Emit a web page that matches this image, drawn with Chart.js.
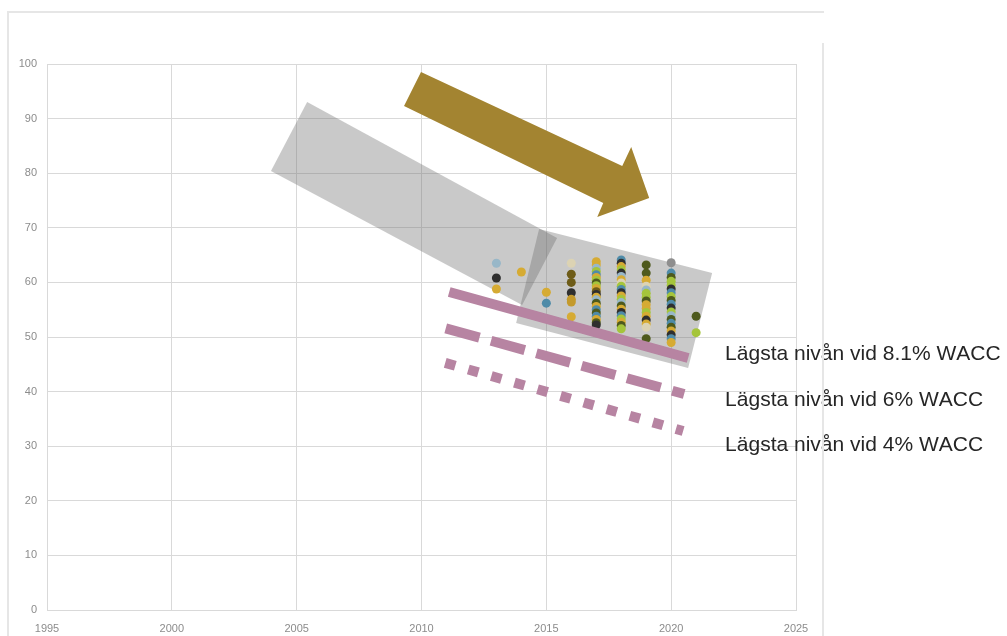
<!DOCTYPE html>
<html><head><meta charset="utf-8">
<script src="https://cdn.jsdelivr.net/npm/chart.js@4.4.1/dist/chart.umd.min.js"></script>
<style>
html,body{margin:0;padding:0;background:#fff;}
#wrap{position:relative;width:1007px;height:636px;overflow:hidden;background:#fff;}
canvas{position:absolute;left:0;top:0;}
.fr{position:absolute;background:#e6e6e6;}
</style></head><body>
<div id="wrap">
<canvas id="c" width="1007" height="636"></canvas>
<div class="fr" style="left:8px;top:11px;width:816px;height:2px"></div>
<div class="fr" style="left:7px;top:11px;width:2px;height:625px"></div>
<div class="fr" style="left:822px;top:43px;width:2px;height:593px"></div>
</div>
<script>
// ---- tick labels ----
const xTicks = [1995, 2000, 2005, 2010, 2015, 2020, 2025];
const yTicks = [0, 10, 20, 30, 40, 50, 60, 70, 80, 90, 100];

// ---- observed points per year (values top to bottom) ----
const years = [2013, 2014, 2015, 2016, 2017, 2018, 2019, 2020, 2021];
const v2013 = [63.5, 60.8, 58.8];
const v2014 = [61.9];
const v2015 = [58.2, 56.2];
const v2016 = [63.5, 61.5, 60.0, 58.1, 56.9, 56.4, 53.7];
const v2017 = [63.8, 63.2, 62.6, 62.0, 61.4, 60.9, 60.4, 59.9, 59.4, 58.9, 58.3, 57.8, 57.3, 56.8, 56.2, 55.6, 55.0, 54.4, 53.8, 53.2, 52.6, 52.2];
const v2018 = [64.1, 63.5, 62.9, 62.3, 61.7, 61.1, 60.5, 59.9, 59.3, 58.7, 58.1, 57.5, 56.9, 56.3, 55.7, 55.1, 54.5, 53.9, 53.3, 52.7, 52.1, 51.5];
const v2019 = [63.2, 61.7, 60.4, 59.3, 58.6, 58.0, 57.3, 56.6, 55.9, 55.2, 54.5, 53.8, 53.1, 52.4, 51.8, 49.7];
const v2020 = [63.6, 61.7, 60.9, 60.2, 59.5, 58.8, 58.1, 57.4, 56.7, 56.0, 55.3, 54.6, 53.9, 53.2, 52.5, 51.8, 51.1, 50.4, 49.7, 49.0];
const v2021 = [53.8, 50.8];
const yearValues = [v2013, v2014, v2015, v2016, v2017, v2018, v2019, v2020, v2021];

// ---- colour key of each point (style, kept apart from the values) ----
const palette = {gd:'#d6ab33', ms:'#c49a2c', lb:'#98b7c8', dk:'#2f2f2f', tl:'#4f8ba8', lm:'#a5c53b', dl:'#4e5a1d', br:'#6e5c18', bg:'#dcd3b3', gy:'#8e8e8e'};
const k2013 = ['lb','dk','gd'];
const k2014 = ['gd'];
const k2015 = ['gd','tl'];
const k2016 = ['bg','br','br','dk','ms','ms','gd'];
const k2017 = ['gd','gd','lb','lm','tl','gd','lm','dl','lm','gd','br','dk','gd','lb','dl','gd','tl','dl','tl','gd','dl','dk'];
const k2018 = ['tl','dk','gd','lm','dk','lb','gd','bg','lm','tl','dk','gd','lm','lb','dl','gd','dk','tl','lm','gd','dl','lm'];
const k2019 = ['dl','dl','gd','bg','lb','lm','lm','dl','gd','gd','lm','gd','dk','gd','bg','dl'];
const k2020 = ['gy','tl','dl','lm','lm','dk','tl','lm','dl','tl','dk','lm','lb','dl','tl','dl','gd','dk','tl','gd'];
const k2021 = ['dl','lm'];
const yearKeys = [k2013, k2014, k2015, k2016, k2017, k2018, k2019, k2020, k2021];

// ---- WACC floor lines: [year, value] endpoints ----
const wacc81 = [[2011.11,58.24],[2020.68,46.15]];
const wacc6  = [[2010.97,51.59],[2020.52,39.56]];
const wacc4  = [[2010.95,45.27],[2020.48,32.78]];
const labelTexts = ['L\u00e4gsta niv\u00e5n vid 8.1% WACC','L\u00e4gsta niv\u00e5n vid 6% WACC','L\u00e4gsta niv\u00e5n vid 4% WACC'];
const labelX = 2022.16;
const labelY = [46.85, 38.4, 30.2];

// ---- annotation shapes (data space vertices) ----
const arrowShape = [[2009.98,98.53],[2018.04,81.32],[2018.40,84.8],[2019.12,75.46],[2017.04,71.98],[2017.28,74.54],[2009.30,92.31]];
const trendBand = [[2005.42,93.04],[2015.43,68.13],[2014.03,55.86],[2003.97,80.40]];
const recentBox = [[2014.71,69.78],[2021.64,61.72],[2020.68,44.32],[2013.79,52.56]];

const toXY = a => a.map(([x,y]) => ({x, y}));
const closed = a => toXY(a.concat([a[0]]));

function column(i){
  return {type:'scatter', data: yearValues[i].map(v => ({x: years[i], y: v})),
    backgroundColor: yearKeys[i].map(k => palette[k]), borderWidth: 0, pointRadius: 4.5, pointHoverRadius: 4.5};
}
function pinkLine(pts, dash){
  return {type:'line', data: toXY(pts), borderColor:'#b784a2', borderWidth:10, borderDash: dash, borderCapStyle:'butt', pointRadius:0, fill:false, tension:0};
}
function shape(pts, color){
  return {type:'line', data: closed(pts), backgroundColor: color, borderWidth:0, borderColor:'rgba(0,0,0,0)', pointRadius:0, fill:'shape', tension:0};
}

const labelPlugin = {
  id: 'waccLabels',
  afterDatasetsDraw(chart){
    const {ctx, scales:{x, y}} = chart;
    ctx.save();
    ctx.font = '21px "Liberation Sans", Arial, sans-serif';
    try { ctx.textRendering = 'optimizeSpeed'; ctx.fontKerning = 'none'; } catch(e) {}
    ctx.fillStyle = '#262626';
    ctx.textAlign = 'left';
    ctx.textBaseline = 'middle';
    labelTexts.forEach((t,i) => ctx.fillText(t, x.getPixelForValue(labelX), y.getPixelForValue(labelY[i])));
    ctx.restore();
  }
};

const datasets = [
  pinkLine(wacc81, []),
  pinkLine(wacc6, [35,12]),
  pinkLine(wacc4, [10.5,13.5]),
  shape(arrowShape, '#a38431')
];
years.forEach((y, i) => datasets.push(column(i)));
datasets.push(shape(recentBox, 'rgba(104,104,104,0.36)'));
datasets.push(shape(trendBand, 'rgba(104,104,104,0.36)'));

new Chart(document.getElementById('c'), {
  type: 'scatter',
  data: {datasets},
  options: {
    responsive: false,
    animation: false,
    events: [],
    layout: {padding: {left: 0, top: 64, right: 211, bottom: 0}},
    plugins: {legend: {display: false}, tooltip: {enabled: false}},
    scales: {
      x: {
        type: 'linear', min: 1995, max: 2025,
        afterBuildTicks: s => { s.ticks = xTicks.map(v => ({value: v})); },
        afterFit: s => { s.height = 26; },
        ticks: {callback: v => String(v), color: '#8c8c8c', font: {size: 11, family: '"Liberation Sans", Arial, sans-serif'}, padding: 12, maxRotation: 0, autoSkip: false},
        grid: {color: '#d9d9d9', drawTicks: false},
        border: {color: '#d9d9d9'}
      },
      y: {
        type: 'linear', min: 0, max: 100,
        afterBuildTicks: s => { s.ticks = yTicks.map(v => ({value: v})); },
        afterFit: s => { s.width = 47; },
        ticks: {color: '#8c8c8c', font: {size: 11, family: '"Liberation Sans", Arial, sans-serif'}, padding: 10},
        grid: {color: '#d9d9d9', drawTicks: false},
        border: {color: '#d9d9d9'}
      }
    }
  },
  plugins: [labelPlugin]
});
</script>
</body></html>
